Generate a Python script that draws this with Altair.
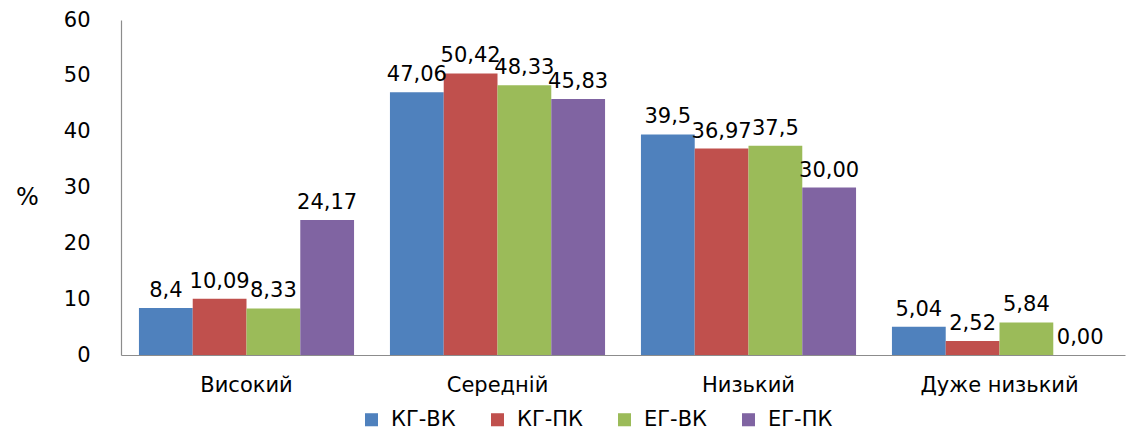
import altair as alt
import pandas as pd

levels = ["Високий", "Середній", "Низький", "Дуже низький"]
groups = ["КГ-ВК", "КГ-ПК", "ЕГ-ВК", "ЕГ-ПК"]
colors = ["#4F81BD", "#C0504D", "#9BBB59", "#8064A2"]

kg_vk = [8.4, 47.06, 39.5, 5.04]
kg_pk = [10.09, 50.42, 36.97, 2.52]
eg_vk = [8.33, 48.33, 37.5, 5.84]
eg_pk = [24.17, 45.83, 30.00, 0.00]

kg_vk_text = ["8,4", "47,06", "39,5", "5,04"]
kg_pk_text = ["10,09", "50,42", "36,97", "2,52"]
eg_vk_text = ["8,33", "48,33", "37,5", "5,84"]
eg_pk_text = ["24,17", "45,83", "30,00", "0,00"]

rows = []
for g, vals, texts in zip(groups, [kg_vk, kg_pk, eg_vk, eg_pk],
                          [kg_vk_text, kg_pk_text, eg_vk_text, eg_pk_text]):
    for lvl, v, t in zip(levels, vals, texts):
        rows.append({"level": lvl, "group": g, "value": v, "label": t})
df = pd.DataFrame(rows)

FONT = "DejaVu Sans"
FS = 21

x_enc = alt.X(
    "level:N", sort=levels, title=None,
    scale=alt.Scale(paddingInner=0.143, paddingOuter=0.0715),
    axis=alt.Axis(labelAngle=0, labelFontSize=FS, labelFont=FONT, labelColor="#000000",
                  labelPadding=19, ticks=False, domainColor="#8c8c8c", domainWidth=1.2),
)
y_enc = alt.Y(
    "value:Q", scale=alt.Scale(domain=[0, 60], nice=False),
    axis=alt.Axis(values=[0, 10, 20, 30, 40, 50, 60], grid=False, ticks=False,
                  labelFontSize=FS, labelFont=FONT, labelColor="#000000", labelPadding=31,
                  domainColor="#8c8c8c", domainWidth=1.2,
                  title="%", titleAngle=0, titleFontSize=24, titleFont=FONT,
                  titleFontWeight="normal", titleColor="#000000",
                  titleX=-94, titleY=177, titleAlign="center", titleBaseline="middle"),
)
offset = alt.XOffset("group:N", sort=groups, scale=alt.Scale(paddingInner=0, paddingOuter=0))

bars = alt.Chart(df).mark_bar().encode(
    x=x_enc, y=y_enc, xOffset=offset,
    color=alt.Color("group:N", sort=groups,
                    scale=alt.Scale(domain=groups, range=colors),
                    legend=alt.Legend(title=None, orient="none", direction="horizontal",
                                      legendX=240, legendY=389,
                                      symbolType="square", symbolSize=170,
                                      symbolStrokeWidth=0, labelFontSize=FS,
                                      labelFont=FONT, labelColor="#000000",
                                      columnPadding=31, labelOffset=9)),
)

labels = alt.Chart(df).mark_text(
    baseline="alphabetic", dy=-11, fontSize=FS, font=FONT, color="#000000"
).encode(
    x=alt.X("level:N", sort=levels), y="value:Q", xOffset=offset, text="label:N"
)

chart = alt.layer(bars, labels).properties(
    width=1004, height=335,
    autosize=alt.AutoSizeParams(type="none"),
    padding={"left": 121, "top": 20, "right": 4, "bottom": 77},
    background="#ffffff",
).configure_view(stroke=None)

chart.save("out.html", embed_options={"renderer": "svg", "actions": False})
